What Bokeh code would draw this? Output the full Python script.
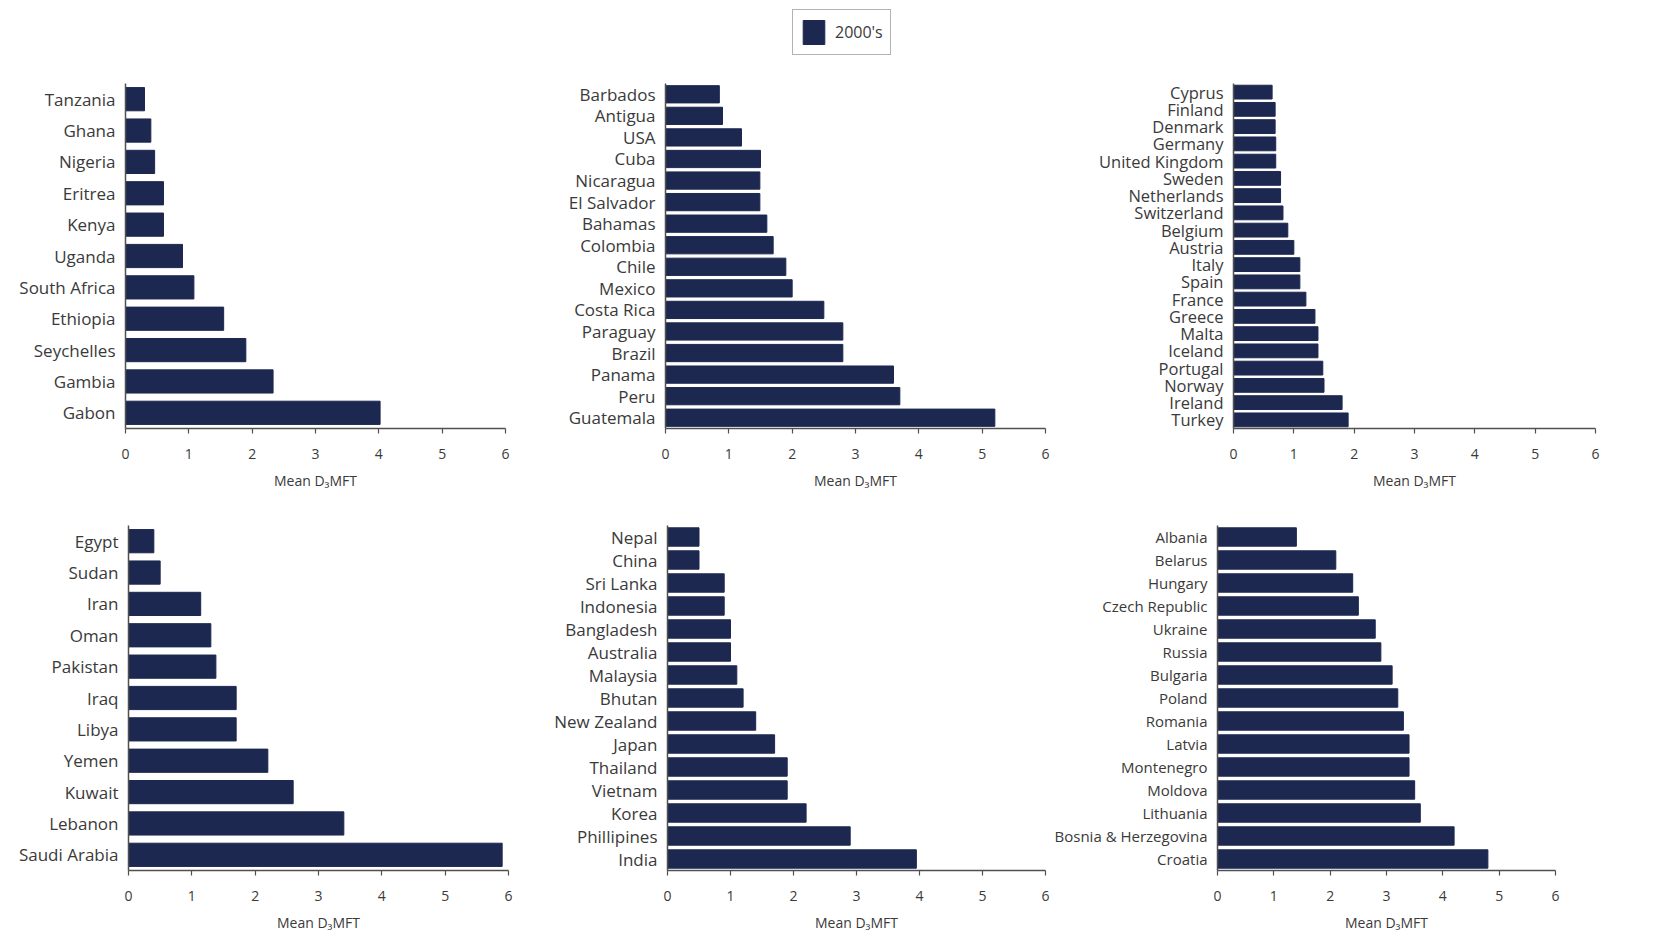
from bokeh.plotting import figure
from bokeh.layouts import column, row
from bokeh.models import Range1d, FactorRange, FixedTicker, Legend, LegendItem
from bokeh.embed import file_html
from bokeh.resources import INLINE

# ---------------- data (top-to-bottom order as in the chart) ----------------
africa = ["Tanzania", "Ghana", "Nigeria", "Eritrea", "Kenya", "Uganda",
          "South Africa", "Ethiopia", "Seychelles", "Gambia", "Gabon"]
africa_vals = [0.3, 0.4, 0.46, 0.6, 0.6, 0.9, 1.08, 1.55, 1.9, 2.33, 4.02]

americas = ["Barbados", "Antigua", "USA", "Cuba", "Nicaragua", "El Salvador",
            "Bahamas", "Colombia", "Chile", "Mexico", "Costa Rica", "Paraguay",
            "Brazil", "Panama", "Peru", "Guatemala"]
americas_vals = [0.85, 0.9, 1.2, 1.5, 1.49, 1.49, 1.6, 1.7, 1.9, 2.0, 2.5,
                 2.8, 2.8, 3.6, 3.7, 5.2]

western_europe = ["Cyprus", "Finland", "Denmark", "Germany", "United Kingdom",
                  "Sweden", "Netherlands", "Switzerland", "Belgium", "Austria",
                  "Italy", "Spain", "France", "Greece", "Malta", "Iceland",
                  "Portugal", "Norway", "Ireland", "Turkey"]
western_europe_vals = [0.64, 0.69, 0.69, 0.7, 0.7, 0.78, 0.78, 0.82, 0.9, 1.0,
                       1.1, 1.1, 1.2, 1.35, 1.4, 1.4, 1.48, 1.5, 1.8, 1.9]

middle_east = ["Egypt", "Sudan", "Iran", "Oman", "Pakistan", "Iraq", "Libya",
               "Yemen", "Kuwait", "Lebanon", "Saudi Arabia"]
middle_east_vals = [0.4, 0.5, 1.14, 1.3, 1.38, 1.7, 1.7, 2.2, 2.6, 3.4, 5.9]

asia = ["Nepal", "China", "Sri Lanka", "Indonesia", "Bangladesh", "Australia",
        "Malaysia", "Bhutan", "New Zealand", "Japan", "Thailand", "Vietnam",
        "Korea", "Phillipines", "India"]
asia_vals = [0.5, 0.5, 0.9, 0.9, 1.0, 1.0, 1.1, 1.2, 1.4, 1.7, 1.9, 1.9, 2.2,
             2.9, 3.95]

eastern_europe = ["Albania", "Belarus", "Hungary", "Czech Republic", "Ukraine",
                  "Russia", "Bulgaria", "Poland", "Romania", "Latvia",
                  "Montenegro", "Moldova", "Lithuania", "Bosnia & Herzegovina",
                  "Croatia"]
eastern_europe_vals = [1.4, 2.1, 2.4, 2.5, 2.8, 2.9, 3.1, 3.2, 3.3, 3.4, 3.4,
                       3.5, 3.6, 4.2, 4.8]

x_ticks = [0, 1, 2, 3, 4, 5, 6]
x_title = "Mean D\u2083MFT"
legend_label = "2000's"

BAR = "#1d2850"
FONT = "Open Sans"
TXT = "#3a3a3a"
AX = "#505050"


def panel(names, vals, width, height, left, right, top, bottom, bar_h, fs):
    p = figure(width=width, height=height, output_backend="svg",
               toolbar_location=None,
               x_range=Range1d(0, 6),
               y_range=FactorRange(factors=list(reversed(names))),
               min_border_left=left, min_border_right=right,
               min_border_top=top, min_border_bottom=bottom)
    p.hbar(y=names, right=vals, left=0, height=bar_h, color=BAR)
    p.outline_line_color = None
    p.xgrid.visible = False
    p.ygrid.visible = False
    p.background_fill_color = None
    p.border_fill_color = None

    xa = p.xaxis[0]
    xa.ticker = FixedTicker(ticks=x_ticks)
    xa.axis_line_color = AX
    xa.axis_line_width = 1.5
    xa.major_tick_line_color = AX
    xa.major_tick_line_width = 1.2
    xa.major_tick_out = 5
    xa.major_tick_in = 0
    xa.minor_tick_line_color = None
    xa.major_label_text_font = FONT
    xa.major_label_text_font_size = "14px"
    xa.major_label_text_color = TXT
    xa.major_label_standoff = 15
    xa.axis_label = x_title
    xa.axis_label_text_font = FONT
    xa.axis_label_text_font_size = "14px"
    xa.axis_label_text_font_style = "normal"
    xa.axis_label_text_color = TXT
    xa.axis_label_standoff = 9

    ya = p.yaxis[0]
    ya.axis_line_color = AX
    ya.axis_line_width = 1.5
    ya.major_tick_line_color = None
    ya.major_tick_out = 0
    ya.major_tick_in = 0
    ya.minor_tick_line_color = None
    ya.major_label_text_font = FONT
    ya.major_label_text_font_size = fs
    ya.major_label_text_color = TXT
    ya.major_label_standoff = 10
    return p


# Row 1
p1 = panel(africa, africa_vals, 515, 440, 125, 10, 23, 67, 0.74, "17px")
p2 = panel(americas, americas_vals, 540, 440, 150, 10, 19, 72, 0.8, "17px")
p3 = panel(western_europe, western_europe_vals, 550, 440, 178, 10, 18, 72,
           0.8, "16.5px")
# Row 2
p4 = panel(middle_east, middle_east_vals, 518, 436, 128, 10, 25, 62, 0.74,
           "17px")
p5 = panel(asia, asia_vals, 532, 436, 149, 5, 23, 65, 0.8, "17px")
p6 = panel(eastern_europe, eastern_europe_vals, 515, 436, 167, 10, 20, 66,
           0.8, "15px")

# Legend strip
lg = figure(width=1667, height=60, output_backend="svg", toolbar_location=None,
            x_range=Range1d(0, 1667), y_range=Range1d(0, 60),
            min_border=0)
lg.axis.visible = False
lg.grid.visible = False
lg.outline_line_color = None
r = lg.hbar(y=[-100], right=[1], left=0, height=1, color=BAR)
leg = Legend(items=[LegendItem(label=legend_label, renderers=[r])],
             location=(792, 5), glyph_width=27, glyph_height=30,
             padding=7, margin=0, label_standoff=8, spacing=0,
             label_text_font=FONT, label_text_font_size="16px",
             label_text_color=TXT, border_line_color="#666",
             border_line_width=1.5, background_fill_alpha=1.0)
lg.add_layout(leg, "center")

layout = column(lg, row(p1, p2, p3), row(p4, p5, p6), spacing=0)

open("out.html", "w").write(file_html(layout, INLINE))
